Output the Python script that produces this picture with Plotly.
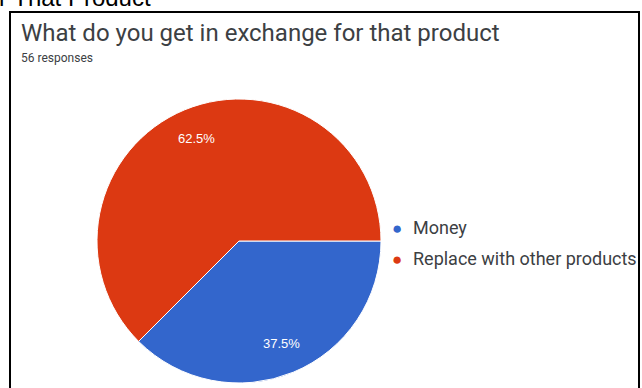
import math
import plotly.graph_objects as go

categories = ["Money", "Replace with other products"]
values = [37.5, 62.5]
colors = ["#3366CC", "#DC3912"]
title_text = "What do you get in exchange for that product"
subtitle_text = "56 responses"
header_fragment = "r That Product"

W, H = 642, 388

def px(x):
    return x / W

def py(y):
    return 1 - y / H

cx, cy, r = 239, 241, 142

fig = go.Figure()
fig.add_trace(go.Pie(
    labels=categories,
    values=values,
    marker=dict(colors=colors, line=dict(color="white", width=1)),
    sort=False,
    direction="clockwise",
    rotation=90,
    textinfo="none",
    domain=dict(x=[px(cx - r), px(cx + r)], y=[py(cy + r), py(cy - r)]),
    showlegend=False,
    hoverinfo="label+percent",
))

annotations = [
    dict(text=header_fragment, x=px(-3), y=py(-3), xanchor="left", yanchor="middle",
         showarrow=False, font=dict(size=24, color="#000", family="Arial")),
    dict(text=title_text, x=px(19), y=py(33), xanchor="left", yanchor="middle",
         showarrow=False, font=dict(size=24, color="#3c4043", family="Roboto")),
    dict(text=subtitle_text, x=px(19), y=py(58), xanchor="left", yanchor="middle",
         showarrow=False, font=dict(size=12, color="#3c4043", family="Roboto")),
]

# percentage labels placed along each slice's mid-angle (clockwise from 3 o'clock)
total = sum(values)
start = 0.0
for v in values:
    frac = v / total
    mid = (start + frac / 2) * 2 * math.pi
    start += frac
    lx = cx + 0.78 * r * math.cos(mid)
    ly = cy + 0.78 * r * math.sin(mid)
    annotations.append(dict(text=f"{frac*100:.1f}%", x=px(lx), y=py(ly),
                            xanchor="center", yanchor="middle", showarrow=False,
                            font=dict(size=13, color="white", family="Arial")))

leg_y = [227, 258]
for i, (cat, col) in enumerate(zip(categories, colors)):
    annotations.append(dict(text="●", x=px(397), y=py(leg_y[i]), xanchor="center", yanchor="middle",
                            showarrow=False, font=dict(size=17, color=col)))
    annotations.append(dict(text=cat, x=px(411), y=py(leg_y[i]), xanchor="left", yanchor="middle",
                            showarrow=False, font=dict(size=18, color="#3c4043", family="Roboto")))

fig.update_layout(
    width=W, height=H,
    margin=dict(l=0, r=0, t=0, b=0),
    paper_bgcolor="white",
    plot_bgcolor="white",
    annotations=annotations,
    shapes=[dict(type="rect", xref="paper", yref="paper",
                 x0=px(10), x1=px(639), y0=py(400), y1=py(12),
                 line=dict(color="black", width=2), layer="below")],
)

fig.write_html("out.html", config={"displayModeBar": False},
               post_script="document.body.style.margin='0';")
